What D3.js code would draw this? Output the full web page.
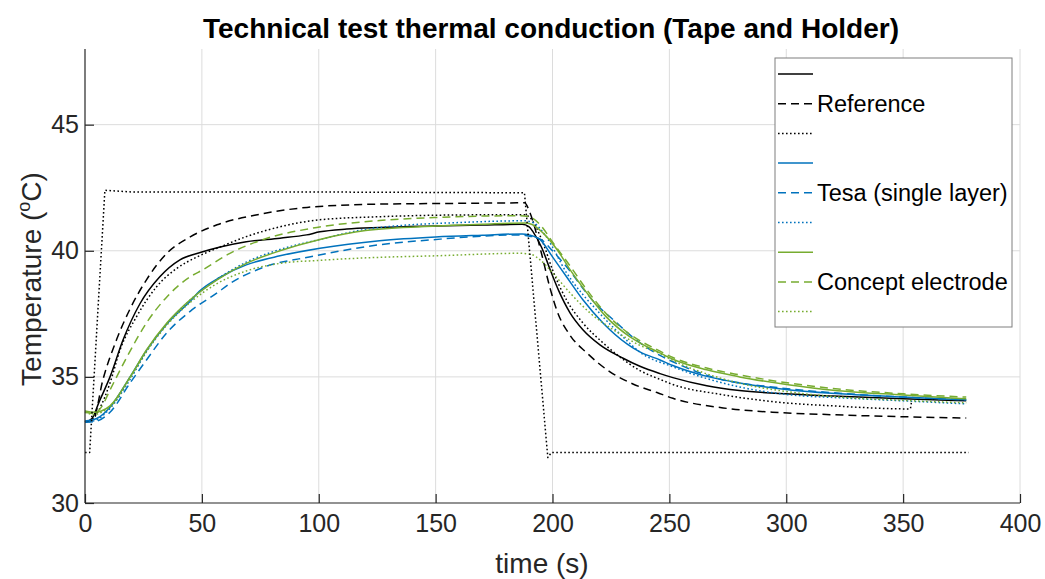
<!DOCTYPE html>
<html>
<head>
<meta charset="utf-8">
<script src="https://cdn.jsdelivr.net/npm/d3@7"></script>
<style>
  html, body { margin: 0; padding: 0; background: #fff; }
  svg { display: block; font-family: "Liberation Sans", Arial, Helvetica, sans-serif; }
</style>
</head>
<body>
<div id="chart"></div>
<script>
// ---------- data (time [s], temperature [°C]) ----------
const refSolid = [[0,33.2],[3,33.35],[6,34.0],[10.7,35.0],[16.3,36.47],[23.5,37.9],[32,38.97],[40.6,39.64],[50,39.95],[57.8,40.15],[69,40.36],[83.4,40.5],[94.8,40.63],[100.5,40.75],[112,40.86],[126,40.92],[150,40.98],[170,41.02],[187,41.05],[190,40.95],[191.7,40.75],[195.5,40.1],[199,39.25],[202.5,38.45],[207.5,37.54],[213,36.87],[220.3,36.27],[230,35.75],[237.4,35.42],[246,35.13],[251.5,34.97],[266,34.65],[280,34.46],[301.6,34.32],[320,34.24],[350,34.13],[377,34.05]];
const refDash = [[0,33.2],[3.5,33.3],[7.7,34.9],[13.6,36.5],[19.3,37.7],[26.3,38.85],[35,39.9],[45,40.55],[56.5,41.03],[75,41.45],[95,41.72],[126,41.85],[160,41.88],[188,41.9],[190.4,41.5],[195,40.0],[199,38.5],[202,37.6],[207.5,36.65],[214.7,35.95],[224.6,35.2],[234.4,34.72],[244.7,34.38],[251.5,34.15],[273,33.77],[294,33.6],[320,33.5],[350,33.42],[377,33.37]];
const refDot = [[0,33.2],[3,33.3],[6,33.7],[10.7,34.76],[15,36.07],[22,37.38],[30.6,38.57],[39.2,39.3],[47.8,39.75],[57.8,40.15],[69,40.56],[83.4,40.95],[100.5,41.23],[126,41.35],[160,41.42],[188,41.43],[190,41.35],[196,40.3],[200,39.25],[206,38.05],[213,37.14],[221.6,36.35],[228,35.85],[237.4,35.25],[246,34.9],[251.5,34.7],[273,34.29],[294,34.02],[320,33.85],[353,33.73],[353.5,33.97]];
const tesaSolid = [[0,33.25],[5,33.35],[10.7,33.8],[19.3,35.0],[26.3,36.05],[35,37.1],[45,38.0],[49,38.4],[57.8,38.95],[69,39.44],[83.4,39.8],[100.5,40.1],[126,40.4],[150,40.55],[170,40.62],[187,40.67],[190,40.63],[194.7,40.44],[200,39.76],[206,38.97],[213,38.06],[221.6,37.14],[232,36.3],[237.4,35.99],[246,35.67],[251.5,35.45],[266,35.02],[280,34.76],[301.6,34.48],[323,34.33],[350,34.2],[377,34.09]];
const tesaDash = [[0,33.2],[5,33.25],[10.7,33.6],[19.3,34.76],[26.3,35.67],[35,36.75],[45,37.6],[56.5,38.33],[62,38.7],[76,39.33],[97.5,39.78],[126,40.24],[149,40.44],[186,40.63],[189,40.6],[195,40.45],[200,40.0],[206,39.37],[217,38.05],[227.5,37.14],[234,36.6],[246,35.85],[251.5,35.6],[273,34.88],[294,34.6],[320,34.37],[350,34.2],[377,34.09]];
const tesaDot = [[0,33.2],[5,33.3],[10.7,33.75],[19.3,34.9],[26.3,36.0],[35,37.1],[45,38.05],[57.8,38.95],[69,39.55],[83.4,40.05],[100.5,40.45],[120,40.85],[135,41.0],[160,41.12],[188,41.19],[192,41.1],[197,40.6],[206,39.13],[220,37.54],[230,36.6],[237.4,35.98],[251.5,35.4],[280,34.6],[301.6,34.29],[323,34.17],[350,34.05],[377,33.93]];
const conceptSolid = [[0,33.65],[4,33.6],[7,33.65],[10.7,33.85],[19.3,35.0],[26.3,36.07],[35,37.14],[45,38.06],[56.5,38.85],[69,39.5],[83.4,40.0],[100.5,40.45],[120,40.8],[150,40.98],[170,41.05],[188,41.1],[191,41.05],[196,40.7],[202,40.04],[207.5,39.25],[214.7,38.33],[223,37.38],[233,36.6],[237.4,36.35],[246,35.95],[251.5,35.7],[266,35.28],[280,35.0],[301.6,34.68],[320,34.47],[350,34.28],[377,34.13]];
const conceptDash = [[0,33.6],[4,33.55],[7,33.8],[10.7,34.48],[18,35.8],[26.3,37.14],[35,38.17],[45,38.97],[50.5,39.25],[62,39.9],[76,40.44],[97.5,40.9],[126,41.2],[150,41.32],[186,41.39],[190,41.35],[195,41.0],[200,40.35],[207.5,39.4],[214.7,38.45],[223,37.5],[233,36.7],[246,36.02],[251.5,35.77],[266,35.35],[280,35.08],[301.6,34.75],[320,34.54],[350,34.33],[377,34.2]];
const conceptDot = [[0,33.6],[4,33.5],[7,33.6],[10.7,33.8],[19.3,34.95],[26.3,36.0],[35,37.05],[45,37.95],[56.5,38.7],[69,39.2],[83.4,39.5],[100,39.62],[126,39.74],[150,39.8],[186,39.9],[191,39.85],[194.7,39.64],[200,39.13],[207.5,38.33],[216,37.54],[226,36.87],[237.4,36.25],[246,35.92],[251.5,35.65],[266,35.12],[280,34.75],[301.6,34.4],[323,34.2],[350,34.07],[377,33.97]];
const heater = [[0,32.0],[2,32.0],[8.5,42.4],[20,42.33],[100,42.33],[188,42.3],[198,31.8],[199.5,32.0],[300,32.0],[378,32.0]];

const legendLabels = ["", "Reference", "", "", "Tesa (single layer)", "", "", "Concept electrode", ""];
const xTicks = [0, 50, 100, 150, 200, 250, 300, 350, 400];
const yTicks = [30, 35, 40, 45];
const titleText = "Technical test thermal conduction (Tape and Holder)";

// ---------- layout ----------
const W = 1045, H = 579;
const mL = 85, mR = 1020, mT = 49, mB = 503;
const BLACK = "#000000", BLUE = "#0072BD", GREEN = "#77AC30";
const DASH = "8,5", DOT = "1.6,2.4";

const series = [
  {data: refSolid, color: BLACK, dash: null},
  {data: refDash, color: BLACK, dash: DASH},
  {data: refDot, color: BLACK, dash: DOT},
  {data: tesaSolid, color: BLUE, dash: null},
  {data: tesaDash, color: BLUE, dash: DASH},
  {data: tesaDot, color: BLUE, dash: DOT},
  {data: conceptSolid, color: GREEN, dash: null},
  {data: conceptDash, color: GREEN, dash: DASH},
  {data: conceptDot, color: GREEN, dash: DOT},
  {data: heater, color: BLACK, dash: DOT, linear: true}
];

const svg = d3.select("#chart").append("svg").attr("width", W).attr("height", H);

const x = d3.scaleLinear().domain([0, 400]).range([mL, mR]);
const y = d3.scaleLinear().domain([30, 48]).range([mB, mT]);

// grid
const grid = svg.append("g");
grid.selectAll("line.gx").data(xTicks.filter(d => d > 0)).join("line")
  .attr("x1", d => x(d)).attr("x2", d => x(d)).attr("y1", mT).attr("y2", mB)
  .attr("stroke", "#dcdcdc").attr("stroke-width", 1);
grid.selectAll("line.gy").data(yTicks.filter(d => d > 30)).join("line")
  .attr("x1", mL).attr("x2", mR).attr("y1", d => y(d)).attr("y2", d => y(d))
  .attr("stroke", "#dcdcdc").attr("stroke-width", 1);

// lines
const plot = svg.append("g");
series.forEach(s => {
  const gen = d3.line().x(d => x(d[0])).y(d => y(d[1]))
    .curve(s.linear ? d3.curveLinear : d3.curveMonotoneX);
  plot.append("path").attr("d", gen(s.data))
    .attr("fill", "none").attr("stroke", s.color).attr("stroke-width", 1.5)
    .attr("stroke-dasharray", s.dash).attr("stroke-linejoin", "round");
});

// axes
const axisColor = "#262626";
const xAxis = svg.append("g").attr("transform", `translate(0,${mB})`)
  .call(d3.axisBottom(x).tickValues(xTicks).tickSize(-9).tickPadding(14).tickFormat(d3.format("d")));
const yAxis = svg.append("g").attr("transform", `translate(${mL},0)`)
  .call(d3.axisLeft(y).tickValues(yTicks).tickSize(-9).tickPadding(15).tickFormat(d3.format("d")));
[xAxis, yAxis].forEach(a => {
  a.select(".domain").attr("stroke", axisColor).attr("stroke-width", 1.2);
  a.selectAll(".tick line").attr("stroke", axisColor).attr("stroke-width", 1.2);
  a.selectAll(".tick text").attr("fill", axisColor).style("font-size", "25px")
    .style("font-family", '"Liberation Sans", Arial, sans-serif');
});
xAxis.select(".domain").attr("d", `M${mL},0H${mR}`);
yAxis.select(".domain").attr("d", `M0,${mT}V${mB}`);
xAxis.selectAll(".tick text").attr("dy", "0.71em").attr("y", 11);
yAxis.selectAll(".tick text").attr("x", -6);

// title
svg.append("text").attr("x", 551).attr("y", 38)
  .attr("text-anchor", "middle").attr("font-weight", "bold").attr("font-size", 28)
  .attr("fill", "#000").text(titleText);

// axis labels
svg.append("text").attr("x", 542).attr("y", 573)
  .attr("text-anchor", "middle").attr("font-size", 28).attr("fill", axisColor).text("time (s)");
const yl = svg.append("text").attr("transform", `translate(41,${279}) rotate(-90)`)
  .attr("text-anchor", "middle").attr("font-size", 28).attr("fill", axisColor);
yl.append("tspan").text("Temperature (");
yl.append("tspan").attr("font-size", 18).attr("dy", -11).text("o");
yl.append("tspan").attr("dy", 11).text("C)");

// legend
const lg = svg.append("g");
const lgX = 775, lgY = 58, lgW = 237, lgH = 269;
lg.append("rect").attr("x", lgX).attr("y", lgY).attr("width", lgW).attr("height", lgH)
  .attr("fill", "#fff").attr("stroke", "#7f7f7f").attr("stroke-width", 1);
series.slice(0, 9).forEach((s, i) => {
  const cy = 74 + i * 29.7;
  lg.append("line").attr("x1", 778).attr("x2", 813).attr("y1", cy).attr("y2", cy)
    .attr("stroke", s.color).attr("stroke-width", 1.5).attr("stroke-dasharray", s.dash);
  if (legendLabels[i]) {
    lg.append("text").attr("x", 817).attr("y", cy).attr("dy", "0.35em")
      .attr("font-size", 23.5).attr("fill", "#000").text(legendLabels[i]);
  }
});
</script>
</body>
</html>
